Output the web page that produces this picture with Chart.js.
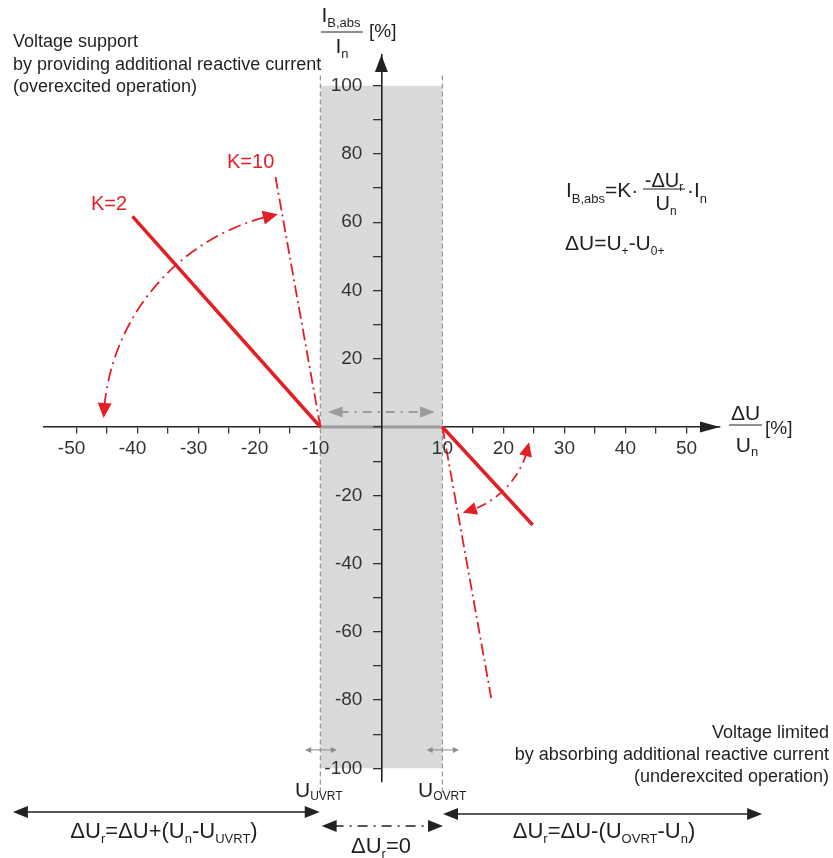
<!DOCTYPE html>
<html><head><meta charset="utf-8">
<script src="https://cdn.jsdelivr.net/npm/chart.js@4/dist/chart.umd.min.js"></script>
<style>html,body{margin:0;padding:0;background:#fff}#wrap{width:833px;height:858px;position:relative}</style>
</head><body><div id="wrap"><canvas id="c"></canvas></div>
<script>
// ---------- data ----------
const xTicks = [-50,-45,-40,-35,-30,-25,-20,-15,-10,-5,0,5,10,15,20,25,30,35,40,45,50];
const xTickLabels = [-50,-40,-30,-20,-10,10,20,30,40,50];
const yTicks = [-100,-90,-80,-70,-60,-50,-40,-30,-20,-10,0,10,20,30,40,50,60,70,80,90,100];
const yTickLabels = [-100,-80,-60,-40,-20,20,40,60,80,100];
const bandX = [-10, 10];
const bandTop = [100, 100];
const bandBottom = [-100, -100];
const bandAxisY = [0, 0];
const leftBoundX = [-10, -10];
const rightBoundX = [10, 10];
const boundaryY = [103, -108];
const k2OverX = [-10, -40.8];
const k2OverY = [0, 61.7];
const k10OverX = [-10, -17.46];
const k10OverY = [0, 74.3];
const k2UnderX = [10, 24.8];
const k2UnderY = [0, -28.7];
const k10UnderX = [10, 18];
const k10UnderY = [0, -79.4];

// ---------- styling ----------
const FONT = '"Liberation Sans", Arial, Helvetica, sans-serif';
const INK = '#231f20';
const RED = '#e31f26';
const GREY = '#9a9b9d';
const pts = (xs, ys) => xs.map((x, i) => ({x: x, y: ys[i]}));

function rich(ctx, parts, x, y, align) {
  let w = 0;
  for (const p of parts) { ctx.font = p[1] + 'px ' + FONT; w += ctx.measureText(p[0]).width; }
  let cx = align === 'right' ? x - w : align === 'center' ? x - w / 2 : x;
  ctx.textAlign = 'left'; ctx.textBaseline = 'alphabetic';
  for (const p of parts) {
    ctx.font = p[1] + 'px ' + FONT;
    ctx.fillText(p[0], cx, y + (p[2] || 0));
    cx += ctx.measureText(p[0]).width;
  }
  return w;
}
function head(ctx, tx, ty, dx, dy, len, hw, color) {
  const l = Math.hypot(dx, dy); dx /= l; dy /= l;
  const bx = tx - dx * len, by = ty - dy * len;
  ctx.fillStyle = color;
  ctx.beginPath();
  ctx.moveTo(tx, ty);
  ctx.lineTo(bx - dy * hw, by + dx * hw);
  ctx.lineTo(bx + dy * hw, by - dx * hw);
  ctx.closePath();
  ctx.fill();
}
function dblArrow(ctx, x1, x2, y, color, width, dash, len, hw) {
  ctx.save();
  ctx.strokeStyle = color; ctx.lineWidth = width; ctx.setLineDash(dash);
  ctx.beginPath(); ctx.moveTo(x1 + len * 0.8, y); ctx.lineTo(x2 - len * 0.8, y); ctx.stroke();
  ctx.setLineDash([]);
  head(ctx, x1, y, -1, 0, len, hw, color);
  head(ctx, x2, y, 1, 0, len, hw, color);
  ctx.restore();
}
function arcArrow(ctx, cx, cy, r, a0, a1, color, width, dash, len, hw) {
  const d = len / r;
  ctx.save();
  ctx.strokeStyle = color; ctx.lineWidth = width; ctx.setLineDash(dash);
  ctx.beginPath(); ctx.arc(cx, cy, r, a0 + d * 0.8, a1 - d * 0.8); ctx.stroke();
  ctx.setLineDash([]);
  const P = a => [cx + r * Math.cos(a), cy + r * Math.sin(a)];
  let t = P(a1), b = P(a1 - d);
  head(ctx, t[0], t[1], t[0] - b[0], t[1] - b[1], len, hw, color);
  t = P(a0); b = P(a0 + d);
  head(ctx, t[0], t[1], t[0] - b[0], t[1] - b[1], len, hw, color);
  ctx.restore();
}
const deg = v => v * Math.PI / 180;

const decor = {
  id: 'decor',
  afterDraw(chart) {
    const ctx = chart.ctx, xs = chart.scales.x, ys = chart.scales.y;
    const px = v => xs.getPixelForValue(v), py = v => ys.getPixelForValue(v);
    ctx.save();
    // axis arrowheads
    head(ctx, px(55.5), py(0), 1, 0, 20, 5.5, '#222');
    head(ctx, px(0), py(109), 0, -1, 17, 6.5, '#222');
    // curved arrows
    arcArrow(ctx, px(-10), py(0), 217, deg(182.4), deg(258.7), RED, 1.8, [13, 5, 2, 5], 15, 7);
    arcArrow(ctx, px(10), py(0), 88, deg(10), deg(76.6), RED, 1.8, [10, 5, 2, 5], 14, 6.5);
    // dead band arrow
    dblArrow(ctx, px(-8.8), px(8.8), py(4.4), GREY, 2, [9, 6, 2, 6], 15, 5.5);
    // small boundary arrows
    dblArrow(ctx, px(-12.5), px(-7.3), py(-94.6), '#8a8b8d', 1, [], 6, 3);
    dblArrow(ctx, px(7.4), px(12.7), py(-94.6), '#8a8b8d', 1, [], 6, 3);
    // bottom range arrows
    dblArrow(ctx, px(-60.4), px(-10.1), py(-112.8), '#222', 1.5, [], 15, 6);
    dblArrow(ctx, px(-9.8), px(10.1), py(-116.9), '#222', 1.5, [10, 6, 2, 6], 15, 6);
    dblArrow(ctx, px(10.1), px(62.4), py(-113.4), '#222', 1.5, [], 15, 6);

    ctx.fillStyle = INK; ctx.strokeStyle = INK; ctx.lineWidth = 1;
    // side texts
    ['Voltage support', 'by providing additional reactive current', '(overexcited operation)']
      .forEach((t, i) => rich(ctx, [[t, 18]], 13, 47 + i * 22.5, 'left'));
    ['Voltage limited', 'by absorbing additional reactive current', '(underexcited operation)']
      .forEach((t, i) => rich(ctx, [[t, 18]], 829, 738 + i * 22, 'right'));
    // y axis label
    rich(ctx, [['I', 21], ['B,abs', 13, 5]], 341, 22, 'center');
    ctx.beginPath(); ctx.moveTo(321, 32); ctx.lineTo(363, 32); ctx.stroke();
    rich(ctx, [['I', 21], ['n', 13, 5]], 342, 53, 'center');
    rich(ctx, [['[%]', 19]], 369, 37, 'left');
    // x axis label
    rich(ctx, [['\u0394U', 21]], 745.5, 420, 'center');
    ctx.beginPath(); ctx.moveTo(729, 425); ctx.lineTo(762, 425); ctx.stroke();
    rich(ctx, [['U', 21], ['n', 13, 4]], 747, 452, 'center');
    rich(ctx, [['[%]', 19]], 765, 434, 'left');
    // formula
    rich(ctx, [['I', 21], ['B,abs', 13, 6], ['=K\u00b7', 21]], 566, 197, 'left');
    ctx.beginPath(); ctx.moveTo(643, 189); ctx.lineTo(685, 189); ctx.stroke();
    rich(ctx, [['-\u0394U', 20], ['r', 12, 4]], 664, 187, 'center');
    rich(ctx, [['U', 20], ['n', 12, 5]], 666, 210, 'center');
    rich(ctx, [['\u00b7I', 21], ['n', 13, 6]], 687, 197, 'left');
    rich(ctx, [['\u0394U=U', 21], ['+', 12, 5], ['-U', 21], ['0+', 12, 5]], 565, 250, 'left');
    // U_UVRT / U_OVRT
    rich(ctx, [['U', 21], ['UVRT', 12, 3]], 295, 797, 'left');
    rich(ctx, [['U', 21], ['OVRT', 12, 3]], 418, 797, 'left');
    // bottom formulas
    rich(ctx, [['\u0394U', 22], ['r', 13, 5], ['=\u0394U+(U', 22], ['n', 13, 5], ['-U', 22], ['UVRT', 13, 5], [')', 22]], 164, 838, 'center');
    rich(ctx, [['\u0394U', 22], ['r', 13, 5], ['=0', 22]], 381, 853, 'center');
    rich(ctx, [['\u0394U', 22], ['r', 13, 5], ['=\u0394U-(U', 22], ['OVRT', 13, 5], ['-U', 22], ['n', 13, 5], [')', 22]], 604, 838, 'center');
    // K labels
    ctx.fillStyle = RED;
    rich(ctx, [['K=2', 20]], 91, 210, 'left');
    rich(ctx, [['K=10', 20]], 227, 168, 'left');
    ctx.restore();
  }
};

const tickFont = {family: FONT, size: 19};
new Chart(document.getElementById('c'), {
  type: 'line',
  data: {
    datasets: [
      {data: pts(bandX, bandTop), borderColor: 'rgba(0,0,0,0)', borderWidth: 0, backgroundColor: '#d9dadb', fill: '+1', pointRadius: 0, order: 10},
      {data: pts(bandX, bandBottom), borderColor: 'rgba(0,0,0,0)', borderWidth: 0, fill: false, pointRadius: 0, order: 11},
      {data: pts(leftBoundX, boundaryY), borderColor: GREY, borderWidth: 1.3, borderDash: [5, 3], pointRadius: 0, fill: false, clip: false, order: 9},
      {data: pts(rightBoundX, boundaryY), borderColor: GREY, borderWidth: 1.3, borderDash: [5, 3], pointRadius: 0, fill: false, clip: false, order: 9},
      {data: pts(bandX, bandAxisY), borderColor: GREY, borderWidth: 3, pointRadius: 0, fill: false, order: 8},
      {data: pts(k2OverX, k2OverY), borderColor: RED, borderWidth: 3.5, pointRadius: 0, fill: false, order: 2},
      {data: pts(k10OverX, k10OverY), borderColor: RED, borderWidth: 1.8, borderDash: [12, 4, 2, 4], pointRadius: 0, fill: false, order: 3},
      {data: pts(k2UnderX, k2UnderY), borderColor: RED, borderWidth: 3.5, pointRadius: 0, fill: false, order: 2},
      {data: pts(k10UnderX, k10UnderY), borderColor: RED, borderWidth: 1.8, borderDash: [12, 4, 2, 4], pointRadius: 0, fill: false, order: 3}
    ]
  },
  options: {
    responsive: true, maintainAspectRatio: false, animation: false, events: [],
    layout: {padding: {left: 44, right: 113, top: 55, bottom: 76}},
    plugins: {legend: {display: false}, tooltip: {enabled: false}},
    scales: {
      x: {
        type: 'linear', min: -55.3, max: 55.5, position: {y: 0},
        afterBuildTicks: s => { s.ticks = xTicks.map(v => ({value: v})); },
        ticks: {autoSkip: false, maxRotation: 0, font: tickFont, color: '#333', padding: 4, z: 1,
          callback: v => xTickLabels.includes(v) ? (v < 0 ? v + '\u2002' : String(v)) : ''},
        grid: {drawOnChartArea: false, drawTicks: true, tickLength: 6, color: '#333', lineWidth: 1.3},
        border: {display: true, color: '#222', width: 1.6}
      },
      y: {
        type: 'linear', min: -104, max: 109, position: {x: 0},
        afterBuildTicks: s => { s.ticks = yTicks.map(v => ({value: v})); },
        ticks: {autoSkip: false, font: tickFont, color: '#333', padding: 11, z: 1,
          callback: v => yTickLabels.includes(v) ? String(v) + '\u2003' : ''},
        grid: {drawOnChartArea: false, drawTicks: true, tickLength: 8, color: '#333', lineWidth: 1.3, z: 1},
        border: {display: true, color: '#222', width: 1.6, z: 1}
      }
    }
  },
  plugins: [decor]
});
</script></body></html>
